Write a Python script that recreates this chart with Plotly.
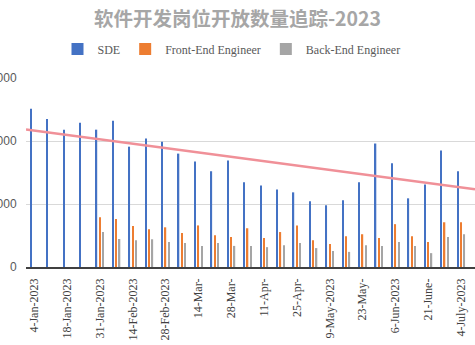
import plotly.graph_objects as go

# Weekly snapshots of open software-development positions, 2023
weeks = [
    "4-Jan-2023", "11-Jan-2023", "18-Jan-2023", "25-Jan-2023", "31-Jan-2023",
    "7-Feb-2023", "14-Feb-2023", "21-Feb-2023", "28-Feb-2023", "7-Mar-2023",
    "14-Mar-", "21-Mar-", "28-Mar-", "4-Apr-", "11-Apr-", "18-Apr-", "25-Apr-",
    "2-May-2023", "9-May-2023", "16-May-", "23-May-", "30-May-2023",
    "6-Jun-2023", "13-Jun-", "21-June-", "27-June-", "4-July-2023",
]
sde = [2510, 2350, 2180, 2290, 2180, 2320, 1910, 2040, 1990, 1800, 1675,
       1520, 1690, 1345, 1295, 1230, 1185, 1045, 980, 1060, 1345, 1960,
       1645, 1090, 1310, 1850, 1520]
front_end = [0, 0, 0, 0, 790, 760, 650, 600, 630, 540, 660, 505, 475, 615,
             460, 555, 660, 425, 365, 490, 520, 460, 680, 490, 395, 710, 710]
back_end = [0, 0, 0, 0, 555, 445, 425, 440, 395, 380, 335, 380, 335, 335,
            315, 345, 380, 300, 255, 240, 345, 335, 395, 335, 220, 475, 520]

# Linear trend of SDE openings: level at the first week and change per week
trend_start = 2167
trend_step = -34.7

# Every other week gets a label on the category axis
tick_weeks = weeks[::2]

x_lo, x_hi = -0.5, 26.85

fig = go.Figure()
series = [
    ("SDE", sde, "#4472C4"),
    ("Front-End Engineer", front_end, "#ED7D31"),
    ("Back-End Engineer", back_end, "#A5A5A5"),
]
for name, vals, color in series:
    fig.add_trace(go.Bar(x=weeks, y=vals, name=name, marker_color=color,
                         marker_line_width=0, showlegend=False))
# square swatches for the legend
for name, vals, color in series:
    fig.add_trace(go.Scatter(x=[None], y=[None], name=name, mode="markers",
                             marker=dict(symbol="square", size=12,
                                         color=color),
                             showlegend=True))

fig.add_trace(go.Scatter(
    x=[x_lo, x_hi],
    y=[trend_start + trend_step * x_lo, trend_start + trend_step * x_hi],
    mode="lines", line=dict(color="#F09098", width=2.5),
    xaxis="x2", showlegend=False, hoverinfo="skip",
))

fig.update_layout(
    width=475, height=345,
    margin=dict(l=26, r=0, t=78, b=78),
    template="none",
    paper_bgcolor="white", plot_bgcolor="white",
    barmode="group", bargap=0.39, bargroupgap=0.6,
    title=dict(text="<b>软件开发岗位开放数量追踪-2023</b>",
               x=0.5, xanchor="center", xref="container",
               y=1 - 19 / 345, yanchor="middle",
               font=dict(family="Noto Sans CJK SC", size=19.5,
                         color="#A6A6A6")),
    legend=dict(orientation="h", x=0.5 - 6 / 475, xanchor="center",
                xref="container",
                y=1 - 49 / 345, yanchor="middle", yref="container",
                font=dict(family="Liberation Serif", size=12, color="#595959"),
                bgcolor="rgba(0,0,0,0)"),
    xaxis=dict(type="category", categoryorder="array", categoryarray=weeks,
               range=[x_lo, x_hi], tickmode="array", tickvals=tick_weeks,
               ticktext=tick_weeks, tickangle=-90, ticks="outside", ticklen=5,
               tickcolor="rgba(0,0,0,0)", showgrid=False, showline=True,
               linecolor="#404040", linewidth=1.5, zeroline=False,
               automargin=False,
               tickfont=dict(family="Liberation Serif", size=12,
                             color="#404040")),
    xaxis2=dict(overlaying="x", range=[x_lo, x_hi], visible=False),
    yaxis=dict(range=[0, 3000], dtick=1000, showgrid=True,
               gridcolor="#D9D9D9", gridwidth=1, zeroline=False,
               showline=False, ticks="outside", ticklen=6,
               tickcolor="rgba(0,0,0,0)", automargin=False,
               tickfont=dict(family="Liberation Sans", size=12,
                             color="#595959")),
)

fig.write_html("out.html")
